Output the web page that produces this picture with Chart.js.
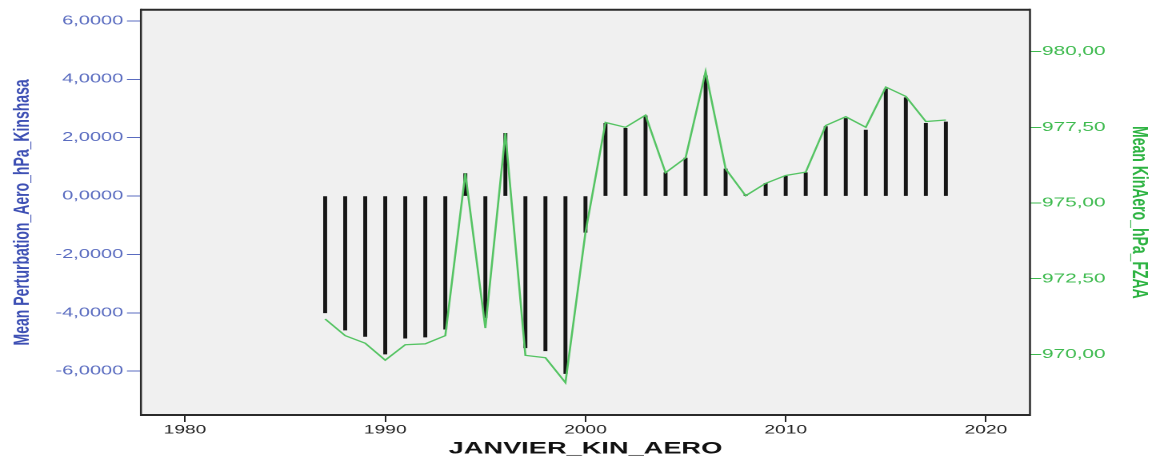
<!DOCTYPE html>
<html>
<head>
<meta charset="utf-8">
<script src="https://cdn.jsdelivr.net/npm/chart.js@4/dist/chart.umd.min.js"></script>
<style>
  html, body { margin: 0; padding: 0; background: #ffffff; overflow: hidden; }
  /* the chart is laid out narrow and stretched wide, like the exported SPSS graphic */
  #wrap { position: absolute; left: 0; top: 0; width: 722px; height: 461px;
          transform: scaleX(1.6); transform-origin: 0 0; }
</style>
</head>
<body>
<div id="wrap"><canvas id="c"></canvas></div>
<script>
// January pressure at Kinshasa airport (FZAA), yearly means
const years = [1987, 1988, 1989, 1990, 1991, 1992, 1993, 1994, 1995, 1996,
               1997, 1998, 1999, 2000, 2001, 2002, 2003, 2004, 2005, 2006,
               2007, 2008, 2009, 2010, 2011, 2012, 2013, 2014, 2015, 2016,
               2017, 2018];

// perturbation (hPa) relative to the long-term mean
const perturbation = [-4.00, -4.59, -4.81, -5.41, -4.87, -4.83, -4.56, 0.77, -4.17, 2.15,
                      -5.20, -5.30, -6.08, -1.24, 2.49, 2.32, 2.75, 0.80, 1.30, 4.12,
                      0.93, 0.05, 0.43, 0.68, 0.80, 2.38, 2.66, 2.26, 3.67, 3.37,
                      2.49, 2.54];

// mean station pressure (hPa)
const kinAero = [971.17, 970.62, 970.37, 969.81, 970.32, 970.35, 970.62, 975.98, 970.87, 977.31,
                 969.97, 969.89, 969.07, 974.03, 977.66, 977.50, 977.90, 976.00, 976.49, 979.34,
                 976.13, 975.24, 975.65, 975.91, 976.02, 977.56, 977.85, 977.50, 978.83, 978.52,
                 977.69, 977.74];

const xTicks = [1980, 1990, 2000, 2010, 2020];
const leftTicks = [-6, -4, -2, 0, 2, 4, 6];
const rightTicks = [970, 972.5, 975, 977.5, 980];

const BLUE_TICK = '#5a6cc0';
const BLUE_TITLE = '#3e50b4';
const GREEN_TICK = '#3dba4e';
const GREEN_TITLE = '#2db342';
const GREEN_LINE = '#55c463';
const FONT = '"Liberation Sans", Arial, sans-serif';

const comma = (v, d) => v.toFixed(d).replace('.', ',');

// plot panel: grey background and dark frame
const panel = {
  id: 'panel',
  beforeDatasetsDraw(chart) {
    const { ctx, chartArea: a } = chart;
    ctx.save();
    ctx.fillStyle = '#f0f0f0';
    ctx.fillRect(a.left, a.top, a.right - a.left, a.bottom - a.top);
    ctx.restore();
  },
  afterDraw(chart) {
    const { ctx, chartArea: a } = chart;
    ctx.save();
    ctx.strokeStyle = '#2a2a2a';
    ctx.lineWidth = 2;
    ctx.beginPath();
    ctx.moveTo(a.left, a.top); ctx.lineTo(a.right, a.top);
    ctx.moveTo(a.left, a.bottom); ctx.lineTo(a.right, a.bottom);
    ctx.stroke();
    ctx.lineWidth = 1.25;
    ctx.beginPath();
    ctx.moveTo(a.left, a.top - 1); ctx.lineTo(a.left, a.bottom + 1);
    ctx.moveTo(a.right, a.top - 1); ctx.lineTo(a.right, a.bottom + 1);
    ctx.stroke();
    ctx.restore();
  }
};

new Chart(document.getElementById('c'), {
  data: {
    datasets: [
      {
        type: 'line',
        label: 'Mean KinAero_hPa_FZAA',
        data: years.map((y, i) => ({ x: y, y: kinAero[i] })),
        yAxisID: 'y1',
        xAxisID: 'x',
        borderColor: GREEN_LINE,
        borderWidth: 1.3,
        pointRadius: 0,
        tension: 0,
        fill: false,
        order: 0
      },
      {
        type: 'bar',
        label: 'Mean Perturbation_Aero_hPa_Kinshasa',
        data: years.map((y, i) => ({ x: y, y: perturbation[i] })),
        yAxisID: 'y',
        xAxisID: 'x',
        backgroundColor: '#161616',
        borderWidth: 0,
        barThickness: 1.8,
        order: 1
      }
    ]
  },
  options: {
    responsive: true,
    maintainAspectRatio: false,
    devicePixelRatio: 2,
    animation: false,
    layout: { padding: { top: 5, left: 0, right: 0, bottom: 0 } },
    plugins: { legend: { display: false }, tooltip: { enabled: false } },
    scales: {
      x: {
        type: 'linear',
        position: 'bottom',
        offset: false,
        min: 1977.8,
        max: 2022.2,
        afterFit(s) { s.height = 46; },
        afterBuildTicks(s) { s.ticks = xTicks.map(v => ({ value: v })); },
        grid: { offset: false, drawOnChartArea: false, drawTicks: true, tickLength: 7, tickColor: '#222222', lineWidth: 1 },
        border: { display: false },
        ticks: {
          color: '#222222',
          padding: 1,
          maxRotation: 0,
          font: { family: FONT, size: 12 },
          callback: v => String(v)
        },
        title: {
          display: true,
          text: 'JANVIER_KIN_AERO',
          color: '#111111',
          font: { family: FONT, size: 17, weight: 'bold' },
          padding: { top: 0, bottom: 2 }
        }
      },
      y: {
        type: 'linear',
        position: 'left',
        min: -7.5,
        max: 6.38,
        afterFit(s) { s.width = 88.1; },
        afterBuildTicks(s) { s.ticks = leftTicks.map(v => ({ value: v })); },
        grid: { drawOnChartArea: false, drawTicks: true, tickLength: 8.75, tickColor: BLUE_TICK, lineWidth: 1 },
        border: { display: false },
        ticks: {
          color: BLUE_TICK,
          padding: 2.3,
          font: { family: FONT, size: 12.5 },
          callback: v => comma(v, 4)
        },
        title: {
          display: true,
          text: 'Mean Perturbation_Aero_hPa_Kinshasa',
          color: BLUE_TITLE,
          font: { family: FONT, size: 14, weight: 'bold' },
          padding: { top: 5.7, bottom: 0 }
        }
      },
      y1: {
        type: 'linear',
        position: 'right',
        min: 968.0,
        max: 981.38,
        afterFit(s) { s.width = 78.25; },
        afterBuildTicks(s) { s.ticks = rightTicks.map(v => ({ value: v })); },
        grid: { drawOnChartArea: false, drawTicks: true, tickLength: 7, tickColor: GREEN_TICK, lineWidth: 1 },
        border: { display: false },
        ticks: {
          color: GREEN_TICK,
          padding: 0.5,
          font: { family: FONT, size: 13 },
          callback: v => comma(v, 2)
        },
        title: {
          display: true,
          text: 'Mean KinAero_hPa_FZAA',
          color: GREEN_TITLE,
          font: { family: FONT, size: 14, weight: 'bold' },
          padding: { top: 1.7, bottom: 0 }
        }
      }
    }
  },
  plugins: [panel]
});
</script>
</body>
</html>
